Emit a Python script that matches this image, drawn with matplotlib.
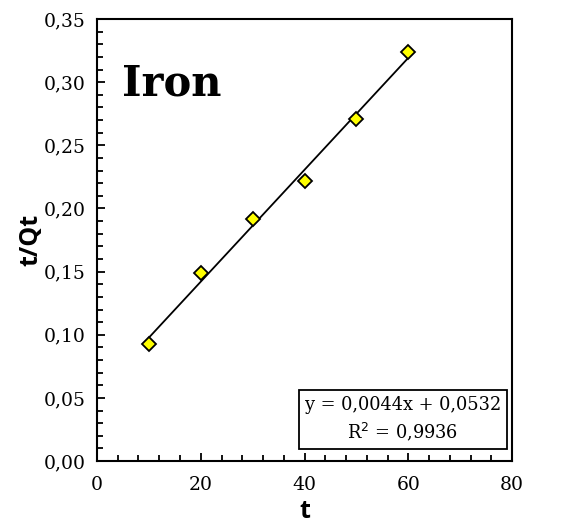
import numpy as np
import matplotlib
matplotlib.use("Agg")
import matplotlib.pyplot as plt
from matplotlib.ticker import MultipleLocator, FuncFormatter

# data
t = [10, 20, 30, 40, 50, 60]
t_over_qt = [0.093, 0.149, 0.192, 0.222, 0.271, 0.324]
eq_text = "y = 0,0044x + 0,0532\nR$^2$ = 0,9936"

plt.rcParams['font.family'] = ['DejaVu Serif']

fig = plt.figure(figsize=(5.84, 5.27), dpi=100)
ax = fig.add_axes([0.166, 0.125, 0.711, 0.839])

# linear trendline over the data range
k, b = np.polyfit(t, t_over_qt, 1)
xs = np.array([min(t), max(t)])
ax.plot(xs, k * xs + b, color='black', lw=1.3, zorder=2)
ax.plot(t, t_over_qt, 'D', color='#ffff00', markeredgecolor='black',
        markeredgewidth=1.3, markersize=7.5, zorder=3)

ax.set_xlim(0, 80)
ax.set_ylim(0, 0.35)
ax.xaxis.set_major_locator(MultipleLocator(20))
ax.xaxis.set_minor_locator(MultipleLocator(4))
ax.yaxis.set_major_locator(MultipleLocator(0.05))
ax.yaxis.set_minor_locator(MultipleLocator(0.01))
ax.yaxis.set_major_formatter(FuncFormatter(lambda v, p: f"{v:.2f}".replace('.', ',')))
ax.tick_params(which='both', direction='in', labelsize=13.5, width=1.3)
ax.tick_params(which='major', length=6)
ax.tick_params(axis='x', which='major', pad=11)
ax.tick_params(axis='y', which='major', pad=8)
ax.tick_params(which='minor', length=4)
for s in ax.spines.values():
    s.set_linewidth(1.5)

ax.set_xlabel('t', fontsize=18, fontweight='bold', family='Open Sans', labelpad=3)
ax.set_ylabel('t/Qt', fontsize=18, fontweight='bold', family='Open Sans', labelpad=0)

ax.text(0.06, 0.853, 'Iron', transform=ax.transAxes, fontsize=30,
        fontweight='bold', ha='left', va='center')
ax.text(0.7365, 0.094, eq_text, transform=ax.transAxes, fontsize=12.8,
        ha='center', va='center', linespacing=1.4,
        bbox=dict(boxstyle='square,pad=0.34', fc='white', ec='black', lw=1.3))

fig.savefig('out.png', dpi=100)
